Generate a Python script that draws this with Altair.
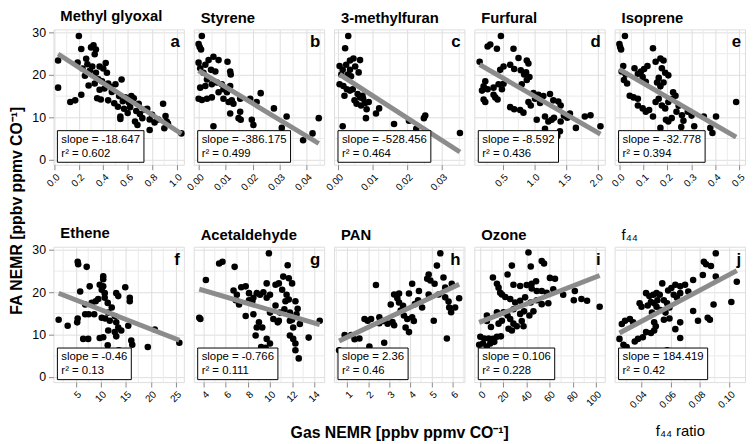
import altair as alt
import pandas as pd

# ---------------- data ----------------
titles = ["Methyl glyoxal", "Styrene", "3-methylfuran", "Furfural", "Isoprene",
          "Ethene", "Acetaldehyde", "PAN", "Ozone", "f\u2084\u2084"]
letters = ["a", "b", "c", "d", "e", "f", "g", "h", "i", "j"]
slope_txt = ["-18.647", "-386.175", "-528.456", "-8.592", "-32.778",
             "-0.46", "-0.766", "2.36", "0.106", "184.419"]
r2_txt = ["0.602", "0.499", "0.464", "0.436", "0.394",
          "0.13", "0.111", "0.46", "0.228", "0.42"]
intercepts = [25.5, 21.0, 20.4, 23.6, 21.3, 20.5, 23.5, 7.04, 13.0, 5.75]

a_x = [0.03, 0.03, 0.13, 0.17, 0.20, 0.19, 0.22, 0.22, 0.23, 0.25, 0.26, 0.27, 0.28, 0.29, 0.30, 0.31, 0.32, 0.33,
       0.33, 0.34, 0.34, 0.35, 0.36, 0.37, 0.37, 0.38, 0.39, 0.40, 0.41, 0.42, 0.43, 0.44, 0.44, 0.46, 0.47, 0.49,
       0.50, 0.52, 0.53, 0.54, 0.54, 0.55, 0.56, 0.57, 0.58, 0.60, 0.61, 0.62, 0.63, 0.65, 0.66, 0.67, 0.68, 0.69,
       0.70, 0.72, 0.74, 0.76, 0.78, 0.78, 0.80, 0.82, 0.85, 0.89, 0.90, 0.91, 0.92, 0.93, 1.04]
a_y = [23.4, 17.0, 13.6, 14.0, 29.2, 22.9, 26.1, 15.3, 21.5, 19.8, 23.8, 22.5, 17.5, 21.0, 26.5, 22.0, 27.0, 18.0,
       24.9, 26.0, 20.5, 14.5, 19.0, 22.0, 16.5, 14.2, 18.5, 21.5, 16.8, 22.8, 20.5, 14.0, 18.0, 17.2, 16.0, 13.3,
       17.8, 12.5, 15.0, 9.6, 10.2, 18.9, 13.8, 12.0, 14.7, 11.0, 13.5, 12.4, 15.0, 14.5, 9.0, 11.5, 8.2, 13.2,
       10.8, 9.8, 11.8, 12.0, 9.5, 7.0, 10.6, 8.8, 9.5, 13.2, 7.4, 10.3, 9.0, 8.5, 6.2]

b_x = [0.0012, 0.0000, 0.0004, 0.0009, 0.0000, 0.0006, 0.0018, 0.0025, 0.0037, 0.0055, 0.0074, 0.0107, 0.0117,
       0.0119, 0.0046, 0.0062, 0.0031, 0.0006, 0.0025, 0.0049, 0.0068, 0.0086, 0.0092, 0.0117, 0.0105, 0.0000,
       0.0012, 0.0031, 0.0049, 0.0074, 0.0092, 0.0111, 0.0123, 0.0129, 0.0154, 0.0191, 0.0215, 0.0230, 0.0117,
       0.0148, 0.0156, 0.0154, 0.0197, 0.0203, 0.0279, 0.0326, 0.0308, 0.0055, 0.0387, 0.0422, 0.0445]
b_y = [29.2, 27.3, 26.6, 26.0, 22.9, 21.6, 20.5, 22.4, 23.5, 24.3, 23.5, 23.1, 20.8, 20.1, 21.2, 20.8, 18.9, 17.0,
       17.4, 17.8, 18.2, 17.8, 16.6, 17.4, 15.9, 14.4, 14.1, 14.4, 14.7, 15.9, 14.4, 13.6, 14.0, 13.2, 14.4, 14.4,
       13.6, 15.7, 10.9, 9.8, 9.4, 11.3, 9.4, 8.2, 12.1, 10.2, 7.5, 7.9, 4.6, 6.2, 9.8]

c_x = [0.0030, 0.0021, 0.0005, 0.0014, 0.0024, 0.0035, 0.0045, 0.0064, 0.0050, 0.0060, 0.0035, 0.0029, 0.0010,
       0.0005, 0.0016, 0.0026, 0.0035, 0.0019, 0.0043, 0.0048, 0.0054, 0.0064, 0.0073, 0.0079, 0.0089, 0.0067,
       0.0083, 0.0119, 0.0110, 0.0081, 0.0162, 0.0205, 0.0248, 0.0252, 0.0226, 0.0014, 0.0352, 0.0038, 0.0071,
       0.0057]
c_y = [29.2, 26.3, 22.1, 21.2, 22.4, 23.4, 23.9, 23.5, 22.0, 20.6, 21.2, 20.1, 20.1, 17.8, 17.4, 16.6, 16.3, 15.1,
       16.6, 14.0, 13.2, 14.7, 14.4, 13.4, 13.6, 12.8, 11.9, 12.1, 10.9, 9.8, 8.4, 9.2, 9.8, 10.4, 7.3, 7.9, 6.3,
       19.7, 15.1, 15.5]

d_x = [0.474, 0.264, 0.306, 0.411, 0.138, 0.673, 0.752, 0.883, 0.909, 0.516, 0.621, 0.463, 0.684, 0.788, 0.841,
       0.872, 0.925, 0.883, 0.804, 0.227, 0.201, 0.264, 0.175, 0.358, 0.437, 0.516, 0.490, 0.201, 0.227, 0.385,
       0.421, 0.358, 0.621, 0.684, 0.778, 0.830, 0.909, 0.946, 0.988, 1.014, 1.066, 1.093, 1.145, 1.250, 1.302,
       1.381, 1.418, 1.470, 1.040, 1.171, 1.224, 1.276, 1.313, 1.418, 1.523, 1.565, 1.171, 1.407, 1.659, 1.800,
       1.890, 2.047, 1.365]
d_y = [29.2, 26.7, 27.2, 26.2, 23.1, 26.2, 24.0, 23.4, 22.7, 22.0, 22.4, 21.2, 21.4, 21.1, 20.1, 20.6, 19.5, 18.8,
       17.8, 18.5, 17.3, 16.6, 16.3, 17.0, 17.8, 17.9, 16.6, 14.2, 13.6, 14.7, 14.2, 15.3, 12.4, 11.9, 11.7, 11.1,
       13.6, 12.8, 15.7, 14.4, 15.3, 13.4, 15.0, 15.5, 14.0, 13.7, 12.8, 10.4, 9.4, 10.2, 9.0, 9.4, 9.9, 9.0, 9.9,
       10.9, 7.3, 6.7, 7.5, 10.2, 10.5, 7.9, 5.6]

e_x = [0.023, 0.000, 0.003, 0.007, 0.140, 0.016, 0.009, 0.026, 0.019, 0.032, 0.063, 0.077, 0.090, 0.103, 0.117,
       0.097, 0.110, 0.151, 0.171, 0.184, 0.177, 0.191, 0.204, 0.164, 0.157, 0.184, 0.171, 0.043, 0.059, 0.077,
       0.077, 0.097, 0.110, 0.124, 0.140, 0.151, 0.164, 0.177, 0.191, 0.204, 0.220, 0.224, 0.234, 0.194, 0.204,
       0.218, 0.238, 0.247, 0.261, 0.267, 0.258, 0.285, 0.301, 0.312, 0.171, 0.352, 0.379, 0.403, 0.388, 0.487]
e_y = [29.2, 27.3, 26.6, 26.0, 26.3, 22.1, 20.8, 20.1, 18.8, 18.0, 21.6, 20.3, 20.8, 21.4, 22.1, 19.5, 18.4, 23.1,
       23.9, 23.4, 21.6, 20.5, 19.9, 19.3, 18.2, 18.2, 17.3, 15.1, 14.7, 14.4, 12.8, 12.1, 11.3, 11.7, 10.2, 13.6,
       14.4, 12.8, 12.1, 13.6, 14.4, 15.9, 15.1, 9.4, 9.0, 9.8, 11.3, 12.7, 10.5, 9.2, 7.7, 11.3, 10.4, 7.9, 7.5,
       10.2, 7.5, 10.2, 6.3, 13.6]

f_x = [5.4, 5.5, 7.2, 5.9, 7.8, 10.5, 10.5, 9.8, 10.2, 10.8, 10.5, 8.2, 9.0, 9.5, 6.9, 13.1, 13.5, 14.9, 15.8, 15.8,
       1.6, 3.4, 5.4, 5.3, 6.9, 7.6, 8.7, 10.8, 11.4, 12.2, 11.5, 12.8, 10.9, 11.8, 13.1, 13.5, 12.8, 14.1, 10.2,
       11.5, 10.5, 9.8, 11.4, 13.1, 6.5, 7.5, 15.5, 16.1, 16.3, 19.4, 20.8, 25.7, 13.6]
f_y = [27.2, 26.6, 26.0, 20.2, 21.4, 23.8, 23.1, 21.8, 20.6, 19.8, 21.4, 17.5, 17.9, 18.4, 17.1, 19.8, 19.1, 21.2,
       18.7, 17.9, 13.5, 12.1, 13.8, 12.9, 14.8, 14.8, 14.8, 18.7, 17.5, 16.4, 15.2, 14.4, 13.8, 13.3, 12.9, 11.7,
       10.6, 11.0, 14.0, 11.0, 9.4, 9.2, 7.5, 9.6, 9.0, 9.0, 12.1, 8.6, 7.6, 7.1, 11.2, 8.1, 6.3]

g_x = [4.2, 3.6, 3.7, 5.4, 5.7, 6.8, 9.9, 11.6, 6.7, 7.0, 6.9, 7.2, 7.4, 7.8, 8.1, 8.5, 8.8, 9.1, 9.4, 9.7, 10.0,
       9.7, 7.8, 8.5, 9.0, 9.3, 8.8, 8.7, 9.7, 10.0, 9.6, 9.2, 10.5, 10.8, 11.1, 11.5, 11.4, 11.7, 11.2, 11.7, 12.0,
       10.0, 10.3, 10.8, 10.9, 11.3, 11.8, 12.0, 12.1, 11.8, 12.1, 12.3, 12.3, 12.6, 10.5, 10.7, 11.8, 12.4, 12.7,
       13.5, 14.5, 12.3, 12.5, 8.1, 8.4]
g_y = [22.9, 14.0, 13.7, 26.8, 27.2, 26.0, 29.2, 26.4, 20.4, 19.4, 18.1, 17.1, 21.2, 21.4, 18.1, 18.7, 19.8, 19.4,
       20.0, 18.7, 19.4, 22.1, 14.4, 14.8, 12.9, 11.7, 11.7, 9.8, 9.0, 7.9, 6.9, 7.1, 21.8, 22.1, 20.6, 19.4, 17.9,
       18.3, 23.7, 23.3, 22.1, 15.2, 13.7, 13.3, 15.2, 16.0, 15.2, 13.5, 11.7, 9.8, 9.0, 7.9, 6.3, 4.4, 16.9, 12.9,
       13.3, 14.8, 12.5, 9.3, 13.3, 17.9, 16.1, 19.8, 17.9]

h_x = [5.41, 5.25, 2.37, 4.86, 4.79, 4.94, 5.14, 5.56, 5.95, 5.64, 4.08, 4.40, 4.86, 5.33, 5.64, 5.80, 5.83, 5.92,
       6.11, 6.30, 3.93, 4.36, 4.21, 4.55, 3.23, 3.46, 3.38, 3.46, 3.07, 3.65, 3.15, 3.23, 3.69, 3.85, 4.08, 4.16,
       3.77, 3.93, 1.83, 1.98, 2.14, 2.53, 2.53, 2.71, 2.92, 1.20, 0.89, 1.36, 1.59, 0.63, 2.06, 2.76, 5.10, 5.72,
       3.54]
h_y = [29.2, 26.3, 21.7, 24.2, 23.2, 22.8, 22.0, 23.5, 22.0, 21.1, 22.0, 20.3, 19.5, 19.5, 18.8, 17.8, 16.4, 15.3,
       16.4, 18.6, 19.7, 18.1, 17.2, 16.4, 19.5, 19.7, 18.6, 17.6, 17.1, 16.8, 13.0, 12.2, 14.5, 13.7, 14.1, 13.2,
       11.7, 10.6, 13.7, 13.3, 13.7, 14.1, 12.7, 13.2, 12.6, 9.9, 9.9, 8.9, 9.1, 6.3, 7.2, 8.1, 13.3, 9.1, 15.7]

i_x = [41.7, 43.7, 53.2, 55.2, 27.3, 10.9, 23.6, 14.4, 15.8, 17.2, 18.7, 28.7, 34.5, 40.2, 44.5, 48.3, 60.3, 64.7,
       44.5, 48.9, 53.2, 57.5, 63.2, 71.8, 81.9, 81.0, 87.6, 92.5, 103.4, 21.6, 25.9, 30.2, 34.5, 38.8, 43.7, 48.9,
       53.2, 58.9, 14.4, 5.7, 20.1, 23.6, 28.7, 34.5, 37.9, 42.5, 46.0, 5.7, 9.2, 15.8, 18.7, 25.9, 28.7, 35.9,
       31.6, 37.4, 0.0, 3.4, 7.2, 10.9, 14.4, 17.8, 8.6, 12.1, 2.3, -1.0, 5.7, 24.4, 27.3]
i_y = [29.4, 26.1, 27.4, 26.8, 26.3, 23.5, 24.2, 22.0, 21.1, 19.9, 19.5, 21.8, 21.5, 21.7, 22.0, 22.6, 23.4, 23.2,
       20.9, 20.3, 20.3, 19.9, 20.7, 19.4, 20.3, 18.1, 18.4, 18.0, 16.6, 18.9, 18.4, 17.6, 18.0, 18.8, 17.6, 18.1,
       17.2, 17.4, 15.3, 14.5, 15.3, 14.5, 16.0, 14.9, 15.5, 14.5, 15.5, 13.2, 11.8, 12.6, 13.3, 13.7, 12.6, 13.2,
       12.0, 12.0, 9.5, 9.1, 9.1, 9.0, 9.5, 9.6, 7.9, 8.3, 7.9, 7.6, 7.2, 11.4, 11.0]

j_x = [0.0907, 0.0826, 0.0841, 0.0874, 0.0907, 0.1050, 0.1013, 0.0892, 0.0819, 0.0753, 0.0698, 0.0665, 0.0632,
       0.0605, 0.0583, 0.0543, 0.0720, 0.0665, 0.0643, 0.0621, 0.0433, 0.0455, 0.0482, 0.0504, 0.0526, 0.0510,
       0.0488, 0.0466, 0.0444, 0.0504, 0.0554, 0.0576, 0.0592, 0.0565, 0.0532, 0.0473, 0.0389, 0.0402, 0.0753,
       0.0786, 0.0852, 0.0867, 0.0665, 0.0632, 0.0665, 0.0290, 0.0323, 0.0345, 0.0268, 0.0488, 0.0499, 0.0488,
       0.0466, 0.0433, 0.0411, 0.0378, 0.0356, 0.0252, 0.0279, 0.0301, 0.0576, 0.0554, 0.0592]
j_y = [29.2, 27.2, 26.6, 26.2, 23.7, 22.5, 17.7, 17.1, 24.1, 22.9, 21.8, 21.4, 21.8, 21.0, 20.4, 22.1, 20.2, 19.8,
       18.7, 19.4, 19.8, 19.1, 19.4, 19.8, 19.4, 18.1, 17.4, 17.7, 16.9, 16.6, 18.1, 17.4, 16.4, 15.2, 15.8, 15.2,
       17.4, 16.6, 15.6, 13.3, 14.0, 13.5, 12.9, 11.3, 9.2, 13.3, 13.7, 12.9, 12.5, 12.9, 12.0, 11.0, 10.4, 10.6,
       9.4, 9.0, 8.4, 9.0, 7.6, 7.1, 6.3, 13.5, 13.8]

xs = [a_x, b_x, c_x, d_x, e_x, f_x, g_x, h_x, i_x, j_x]
ys = [a_y, b_y, c_y, d_y, e_y, f_y, g_y, h_y, i_y, j_y]

# axis / scale settings
x_domains = [(-0.008, 1.06), (-0.0018, 0.0465), (-0.0011, 0.0365), (0.054, 2.115), (-0.02, 0.524),
             (0.56, 26.6), (3.1, 14.9), (0.39, 6.55), (-5.2, 107.8), (0.0219, 0.1106)]
x_major = [[0, 0.2, 0.4, 0.6, 0.8, 1.0], [0, 0.01, 0.02, 0.03, 0.04], [0, 0.01, 0.02, 0.03],
           [0.5, 1.0, 1.5, 2.0], [0, 0.1, 0.2, 0.3, 0.4, 0.5], [5, 10, 15, 20, 25],
           [4, 6, 8, 10, 12, 14], [1, 2, 3, 4, 5, 6], [0, 20, 40, 60, 80, 100], [0.04, 0.06, 0.08, 0.1]]
x_minor = [[0.1, 0.3, 0.5, 0.7, 0.9], [0.005, 0.015, 0.025, 0.035, 0.045], [0.005, 0.015, 0.025, 0.035],
           [0.25, 0.75, 1.25, 1.75], [0.05, 0.15, 0.25, 0.35, 0.45], [2.5, 7.5, 12.5, 17.5, 22.5],
           [5, 7, 9, 11, 13], [0.5, 1.5, 2.5, 3.5, 4.5, 5.5, 6.5], [10, 30, 50, 70, 90], [0.03, 0.05, 0.07, 0.09]]
x_fmt = [".1f", ".2f", ".2f", ".1f", ".1f", "d", "d", "d", "d", ".2f"]
y_major = [0, 10, 20, 30]
y_minor = [5, 15, 25]
y_domain = (-1.2, 30.75)

FONT = "Liberation Sans, Arial, sans-serif"
W, H = 132, 137
GRID = "#ebebeb"

# Arial (Liberation Sans) advance widths, em units
CW = {"s": .5, "l": .222, "o": .556, "p": .556, "e": .556, " ": .278, "=": .584, "-": .333, ".": .278,
      "r": .333, "\u00b2": .333}


def text_w(s, size):
    return sum(CW.get(ch, .556) for ch in s) * size


def panel(i):
    df = pd.DataFrame({"x": xs[i], "y": ys[i]})
    xaxis = dict(values=x_major[i], format=x_fmt[i],
                 labelAngle=315, labelAlign="right", labelBaseline="top",
                 labelOverlap=False, labelFlush=False, labelBound=False,
                 grid=True, domain=False, title=None)
    if i == 7:
        xaxis.update(title="Gas NEMR [ppbv ppmv CO\u207b\u00b9]", titleY=51, titleBaseline="middle",
                     titleFontSize=16, titleFontWeight="bold")
    if i == 9:
        xaxis.update(title="f\u2084\u2084 ratio", titleY=49, titleBaseline="middle",
                     titleFontSize=15, titleFontWeight="normal")
    if i in (0, 5):
        yaxis = dict(values=y_major, labelOverlap=False, labelFlush=False, grid=True, domain=False,
                     labelFontSize=12.5, labelPadding=3, labelAngle=0, title=None)
        if i == 0:
            yaxis.update(title="FA NEMR [ppbv ppmv CO\u207b\u00b9]", titleX=-37, titleY=183,
                         titleAngle=270, titleAlign="center", titleBaseline="middle",
                         titleFontSize=16, titleFontWeight="bold")
    else:
        yaxis = dict(values=y_major, labels=False, ticks=False, grid=True, domain=False, title=None)

    xs_ = alt.Scale(domain=list(x_domains[i]), nice=False, zero=False)
    ys_ = alt.Scale(domain=list(y_domain), nice=False, zero=False)

    # minor grid lines through the scales
    vgrid = alt.Chart(pd.DataFrame({"v": x_minor[i]})).mark_rule(color=GRID, strokeWidth=1).encode(
        x=alt.X("v:Q", scale=xs_, axis=alt.Axis(**xaxis)))
    hgrid = alt.Chart(pd.DataFrame({"v": y_minor})).mark_rule(color=GRID, strokeWidth=1).encode(
        y=alt.Y("v:Q", scale=ys_, axis=alt.Axis(**yaxis)))

    pts = alt.Chart(df).mark_circle(size=44, color="black", opacity=1).encode(
        x=alt.X("x:Q", scale=xs_, axis=alt.Axis(**xaxis)),
        y=alt.Y("y:Q", scale=ys_, axis=alt.Axis(**yaxis)),
    )
    m = float(slope_txt[i])
    x0, x1 = min(xs[i]), max(xs[i])
    ldf = pd.DataFrame({"x": [x0, x1], "y": [intercepts[i] + m * x0, intercepts[i] + m * x1]})
    line = alt.Chart(ldf).mark_line(color="#8c8c8c", strokeWidth=5, strokeCap="butt").encode(
        x=alt.X("x:Q", scale=xs_, axis=alt.Axis(**xaxis)), y=alt.Y("y:Q", scale=ys_, axis=alt.Axis(**yaxis)))

    t1 = f"slope = {slope_txt[i]}"
    t2 = f"r\u00b2 = {r2_txt[i]}"
    fs = 11.5
    bw = max(text_w(t1, fs), text_w(t2, fs)) + 8
    adf = pd.DataFrame({"t1": [t1], "t2": [t2], "lab": [letters[i]]})
    box = alt.Chart(adf).mark_rect(fill="white", stroke="black", strokeWidth=1).encode(
        x=alt.value(4), x2=alt.value(4 + bw), y=alt.value(H - 34.5), y2=alt.value(H - 2.5))
    txt1 = alt.Chart(adf).mark_text(align="left", baseline="alphabetic", fontSize=fs, font=FONT,
                                    color="black").encode(
        x=alt.value(8), y=alt.value(H - 22.5), text="t1:N")
    txt2 = alt.Chart(adf).mark_text(align="left", baseline="alphabetic", fontSize=fs, font=FONT,
                                    color="black").encode(
        x=alt.value(8), y=alt.value(H - 8), text="t2:N")
    lab = alt.Chart(adf).mark_text(align="right", baseline="alphabetic", fontSize=17, fontWeight="bold",
                                   font=FONT, color="black").encode(
        x=alt.value(W - 4), y=alt.value(18), text="lab:N")

    title = alt.TitleParams(titles[i], anchor="start", frame="group", dx=7, offset=-9,
                            fontSize=15, fontWeight="bold" if i != 9 else "normal", font=FONT,
                            color="black", baseline="alphabetic")
    return alt.layer(vgrid, hgrid, pts, line, box, txt1, txt2, lab).properties(
        width=W, height=H, title=title)


chart = alt.concat(*[panel(i) for i in range(10)], columns=5,
                   spacing=alt.RowColnumber(row=83, column=10), bounds="flush").properties(
    padding={"left": 0, "top": -3, "right": 0, "bottom": 0}).configure_axis(
    labelFont=FONT, labelFontSize=12, labelFontWeight="bold", labelColor="#1a1a1a",
    titleFont=FONT, titleColor="black", labelOverlap=False,
    tickColor="#333333", tickSize=4, tickWidth=1, labelPadding=2,
    gridColor=GRID, gridWidth=1,
).configure_view(stroke="#555555", strokeWidth=1).configure(background="white")

chart.save("out.html", embed_options={"renderer": "svg", "actions": False})
